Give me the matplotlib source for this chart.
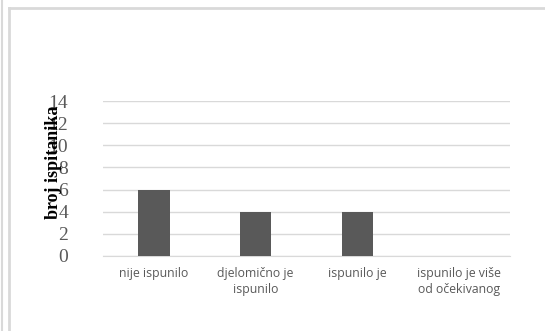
import matplotlib.pyplot as plt
from matplotlib.lines import Line2D

kategorije = ["nije ispunilo", "djelomično je\nispunilo", "ispunilo je", "ispunilo je više\nod očekivanog"]
broj = [6, 4, 4, 0]
yticks = [0, 2, 4, 6, 8, 10, 12, 14]

fig = plt.figure(figsize=(5.45, 3.31), dpi=100)
ax = fig.add_axes([103 / 545, 1 - 256 / 331, 407 / 545, 155 / 331])

ax.bar(range(len(kategorije)), broj, width=0.31, color="#595959", zorder=3)
ax.set_xlim(-0.5, 3.5)
ax.set_ylim(0, 14)
ax.set_yticks(yticks)
ax.yaxis.grid(True, color="#d9d9d9", linewidth=1)
ax.set_axisbelow(True)
for s in ["top", "right", "left"]:
    ax.spines[s].set_visible(False)
ax.spines["bottom"].set_color("#d9d9d9")
ax.tick_params(axis="both", length=0)
ax.tick_params(axis="y", pad=25, colors="#595959")
ax.set_xticks(range(len(kategorije)))
ax.set_xticklabels(kategorije, fontsize=8.8, color="#595959", family="Open Sans", linespacing=1.25)
ax.tick_params(axis="x", pad=8)
for t in ax.get_yticklabels():
    t.set_family("Liberation Serif")
    t.set_fontsize(14)

fig.text(54 / 545, 1 - 162 / 331, "broj ispitanika", rotation=90, ha="center", va="center",
         family="Liberation Serif", fontweight="bold", fontsize=13)

# okvir grafikona
fig.add_artist(Line2D([9 / 545, 9 / 545], [0, 1 - 8 / 331], color="#d9d9d9", linewidth=2))
fig.add_artist(Line2D([9 / 545, 1], [1 - 8 / 331, 1 - 8 / 331], color="#d9d9d9", linewidth=2))
fig.add_artist(Line2D([1.5 / 545, 1.5 / 545], [0, 1], color="#d9d9d9", linewidth=1.5))

fig.savefig("out.png", dpi=100)
